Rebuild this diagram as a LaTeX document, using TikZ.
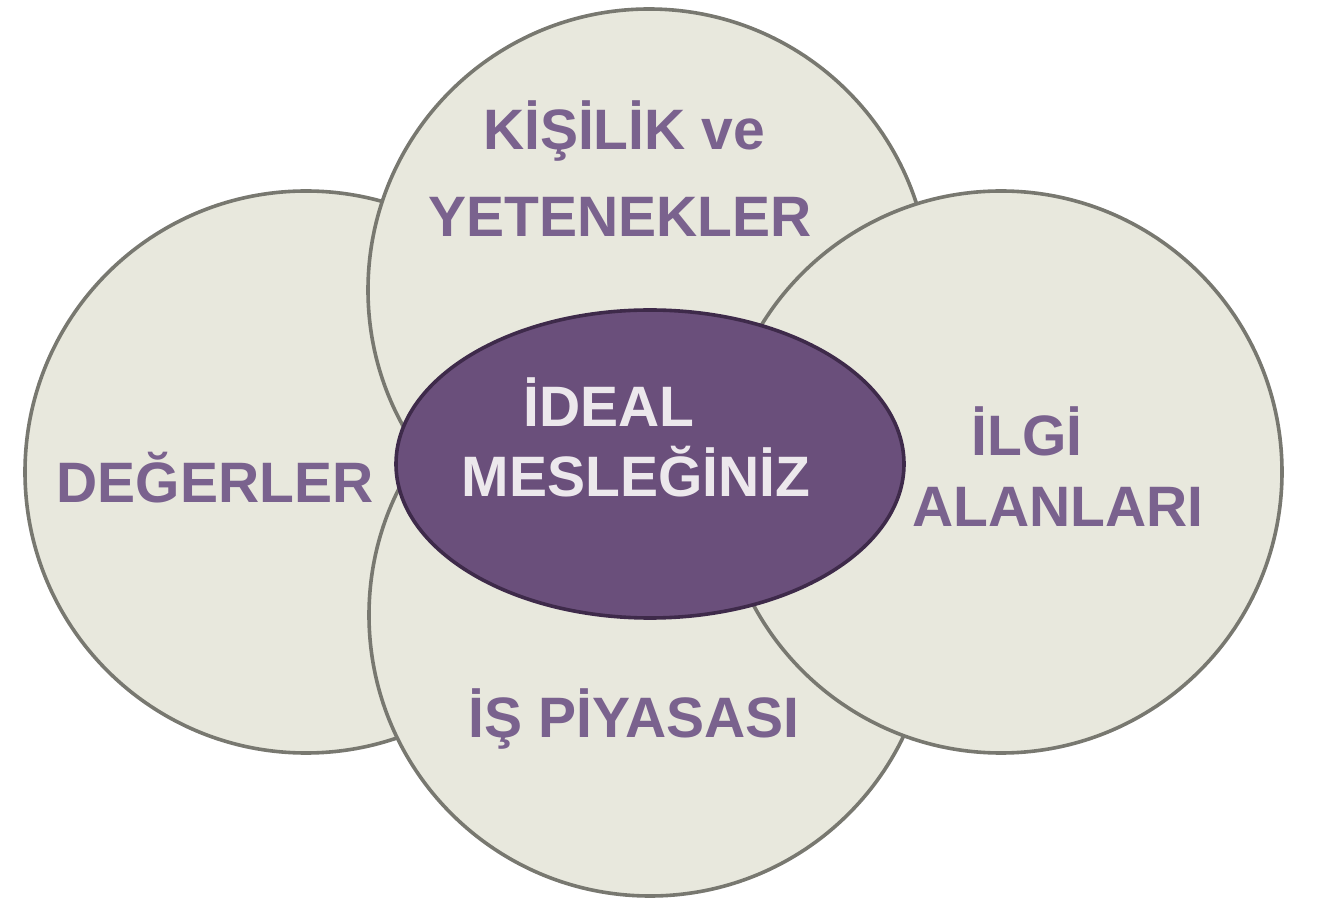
\documentclass[tikz,border=0pt]{standalone}
\usepackage{fontspec}
\setmainfont{Liberation Sans}
\usetikzlibrary{shapes.geometric}
\definecolor{bej}{RGB}{232,232,221}
\definecolor{gri}{RGB}{120,120,112}
\definecolor{mor}{RGB}{106,79,123}
\definecolor{koyumor}{RGB}{62,42,74}
\definecolor{yazimor}{RGB}{122,98,142}
\definecolor{acikyazi}{RGB}{236,232,236}

\begin{document}
\begin{tikzpicture}[x=0.5pt, y=-0.5pt,
    daire/.style={circle, draw=gri, line width=1.8pt, fill=bej, minimum size=281pt, inner sep=0pt},
    merkez/.style={ellipse, draw=koyumor, line width=1.8pt, fill=mor, minimum width=254pt, minimum height=154pt, inner sep=0pt},
    etiket/.style={anchor=base, inner sep=0pt, text=yazimor, font=\bfseries\fontsize{28.5}{34}\selectfont},
    ortayazi/.style={etiket, text=acikyazi}]

    \useasboundingbox (0,0) rectangle (1340,914);

    % Dört daire (alttan üste doğru)
    \node[daire] (degerler) at (306,472) {};
    \node[daire] (kisilik) at (649,290) {};
    \node[daire] (piyasa) at (650,615) {};
    \node[daire] (ilgi) at (1001,472) {};

    % Ortadaki elips
    \node[merkez] (meslek) at (650,464) {};

    % Daire yazıları
    \node[etiket] (kisilikA) at (624,150) {KİŞİLİK ve};
    \node[etiket] (kisilikB) at (620,237) {YETENEKLER};
    \node[etiket] (degerlerA) at (215,503) {DEĞERLER};
    \node[etiket] (ilgiA) at (1027,456) {İLGİ};
    \node[etiket] (ilgiB) at (1058,527) {ALANLARI};
    \node[etiket] (piyasaA) at (634,738) {İŞ PİYASASI};

    % Elips yazısı
    \node[ortayazi] (meslekA) at (609,427) {İDEAL};
    \node[ortayazi] (meslekB) at (636,497) {MESLEĞİNİZ};

\end{tikzpicture}
\end{document}
